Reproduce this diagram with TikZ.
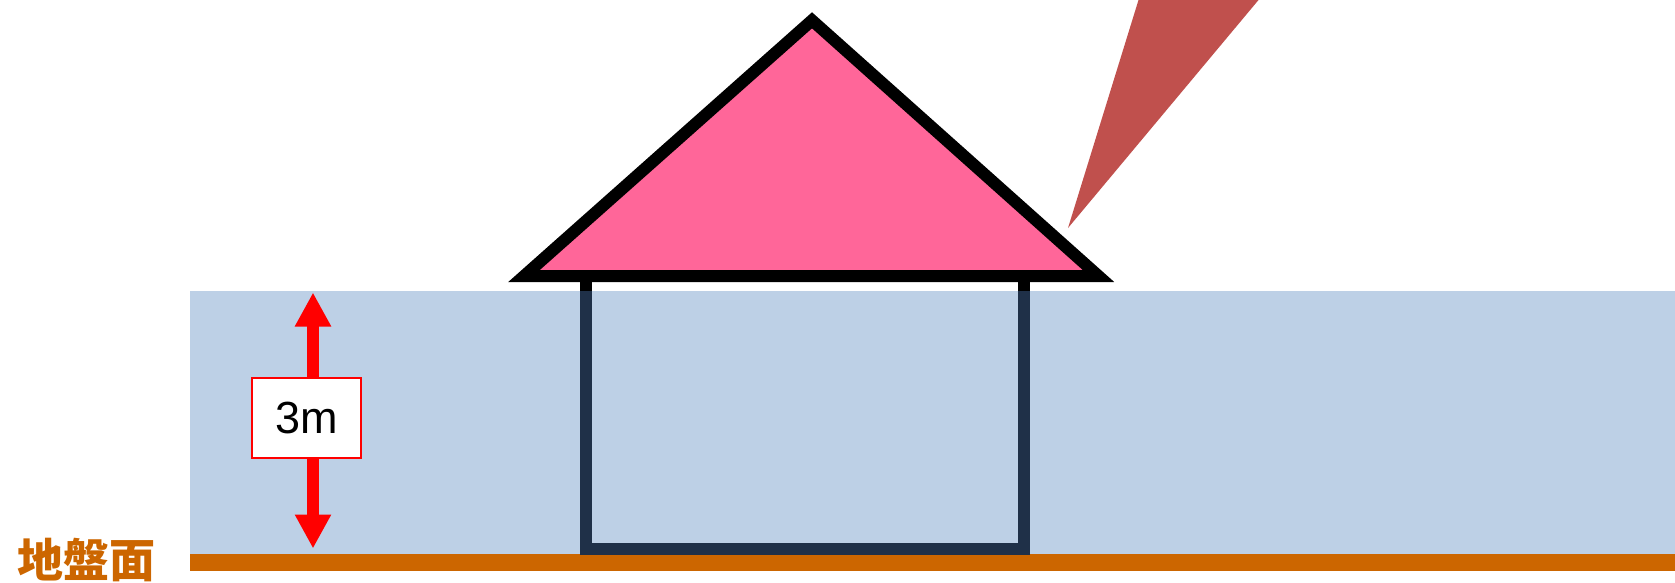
\documentclass[tikz,border=0pt]{standalone}
\usepackage{fontspec}
\setmainfont{Liberation Sans}
\newfontfamily\cjk{Noto Sans CJK JP}
\usetikzlibrary{arrows.meta}
\definecolor{soil}{RGB}{189,208,230}
\definecolor{ground}{RGB}{204,102,0}
\definecolor{roofpink}{RGB}{255,102,153}
\definecolor{wallnavy}{RGB}{31,48,72}
\definecolor{beamred}{RGB}{192,80,77}
\tikzset{
  wall/.style={line width=12pt},
  dimarrow/.style={red, line width=12pt,
    {Triangle[length=34pt,width=34pt]}-{Triangle[length=34pt,width=34pt]}},
}

\begin{document}
\begin{tikzpicture}[x=1pt,y=-1pt]
    \useasboundingbox (0,0) rectangle (1675,582);
    % soil and ground line
    \fill[soil] (190,290.5) rectangle (1675,554);
    \fill[ground] (190,554) rectangle (1675,571);
    % house body
    \draw[wall, wallnavy] (586,276) rectangle (1023.5,548.7);
    \begin{scope}
        \clip (0,0) rectangle (1675,290.5);
        \draw[wall, black] (586,276) rectangle (1023.5,548.7);
    \end{scope}
    % roof
    \draw[wall, black, fill=roofpink, line join=miter] (524,276) -- (812,20.3) -- (1098.5,276) -- cycle;
    % light beam
    \fill[beamred] (1138.5,0) -- (1258.5,0) -- (1068,228) -- cycle;
    % height mark
    \coordinate (uptip) at (313,292.5);
    \coordinate (downtip) at (313,548.5);
    \draw[dimarrow] (uptip) -- (downtip);
    \node[draw=red, fill=white, line width=2pt, minimum width=109pt, minimum height=80pt,
          font=\fontsize{45}{45}\selectfont] (height) at (306.5,418) {3m};
    \node[text=ground, font=\cjk\bfseries\fontsize{46}{46}\selectfont] (gl) at (86.7,560) {地盤面};
\end{tikzpicture}
\end{document}
